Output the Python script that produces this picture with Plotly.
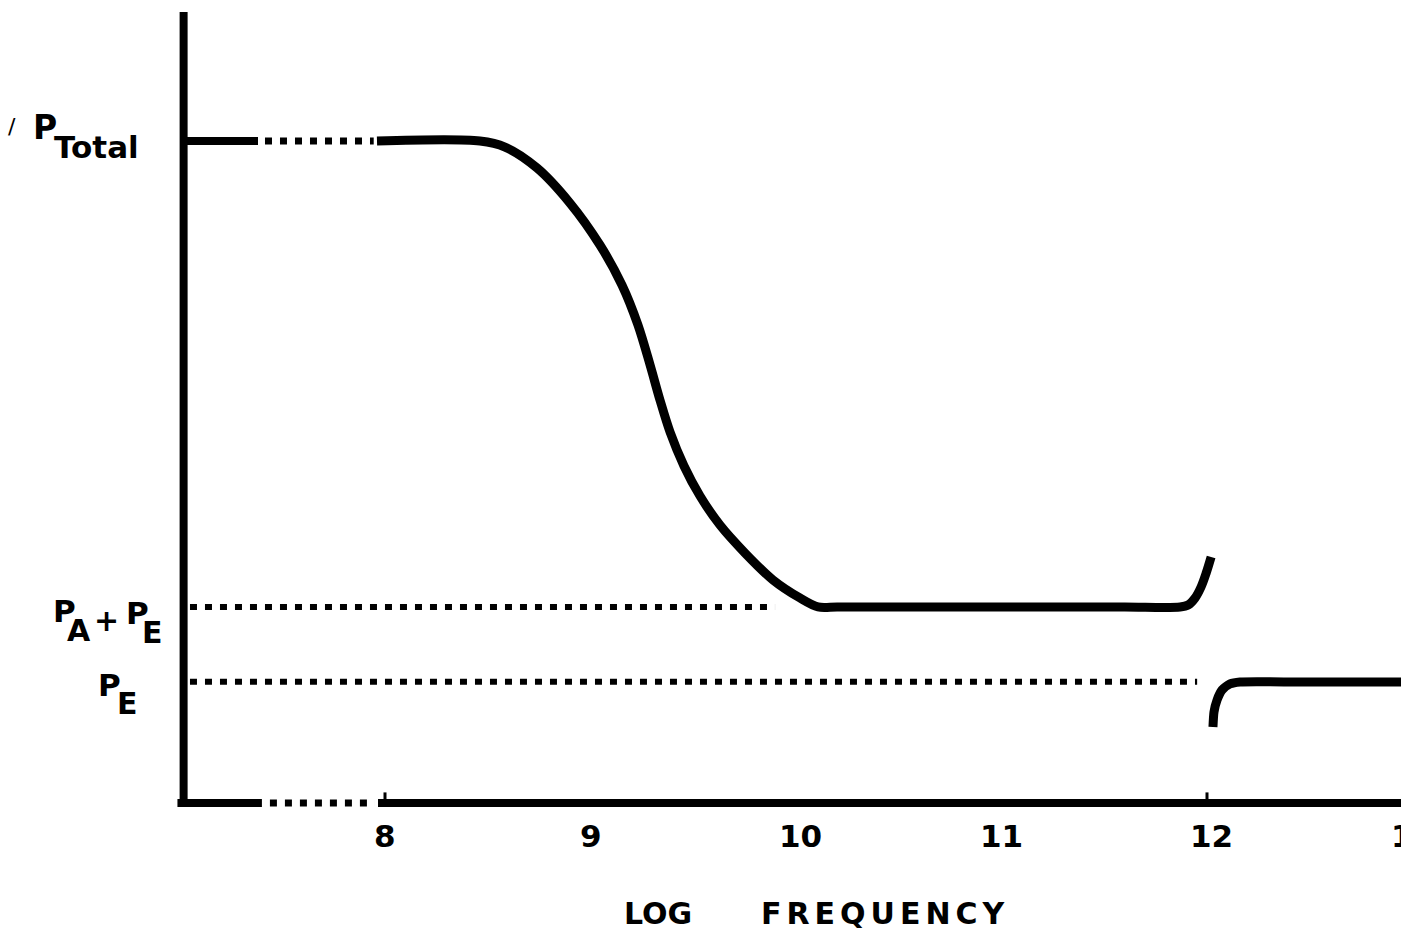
import plotly.graph_objects as go

# ---- data (log frequency, polarization in arbitrary units) ----
P_TOTAL = 10.0
P_AE = 2.96
P_E = 1.83

# main dispersion curve (solid)
curve_x = [7.961, 8.462, 8.584, 8.740, 8.900, 9.046, 9.153, 9.231, 9.290, 9.338,
           9.387, 9.455, 9.533, 9.630, 9.752, 9.888, 10.019, 10.107, 10.2, 10.4,
           10.8, 11.2, 11.6, 11.869, 11.908, 11.942, 11.971, 11.996, 12.020]
curve_y = [10.0, 10.0, 9.909, 9.592, 9.063, 8.429, 7.825, 7.221, 6.616, 6.088,
           5.604, 5.091, 4.637, 4.199, 3.776, 3.369, 3.097, 2.961, 2.961, 2.961,
           2.961, 2.961, 2.961, 2.961, 2.991, 3.097, 3.263, 3.474, 3.716]

# curve beyond the resonance near 12
tail_x = [12.029, 12.034, 12.049, 12.073, 12.112, 12.161, 12.45, 12.75, 13.0]
tail_y = [1.148, 1.375, 1.556, 1.707, 1.798, 1.828, 1.828, 1.828, 1.828]

# P_Total start (solid + dotted)
ptot_solid_x = [7.02, 7.382]
ptot_dot_x = [7.416, 7.945]

# reference dotted levels
pae_dot_x = [7.051, 9.898]
pe_dot_x = [7.051, 11.952]

# axes
yaxis_x = [7.02, 7.02]
yaxis_y = [-0.02, 11.95]
xaxis_solid1 = [6.99, 7.401]
xaxis_dot = [7.44, 7.951]
xaxis_solid2 = [7.966, 13.0]
tick_vals = [8, 12]
tick_labels = ["8", "9", "10", "11", "12", "13"]
tick_label_vals = [8, 9, 10, 11, 12, 13]

BLACK = "#000000"
DOT = "7px,8px"

fig = go.Figure()


def add_line(xs, ys, width, dash=None, shape="linear", smoothing=None):
    line = dict(color=BLACK, width=width, dash=dash, shape=shape)
    if smoothing is not None:
        line["smoothing"] = smoothing
    fig.add_trace(go.Scatter(x=xs, y=ys, mode="lines", line=line,
                             hoverinfo="skip", showlegend=False))


# axes
add_line(yaxis_x, yaxis_y, 8)
add_line(xaxis_solid1, [0, 0], 8)
add_line(xaxis_dot, [0, 0], 7, dash=DOT)
add_line(xaxis_solid2, [0, 0], 8)
for t in tick_vals:
    add_line([t, t], [0, 0.16], 3)

# P_Total lead-in
add_line(ptot_solid_x, [P_TOTAL, P_TOTAL], 8)
add_line(ptot_dot_x, [P_TOTAL, P_TOTAL], 7, dash=DOT)

# dotted reference lines
add_line(pae_dot_x, [P_AE, P_AE], 6, dash=DOT)
add_line(pe_dot_x, [P_E, P_E], 6, dash=DOT)

# curves
add_line(curve_x, curve_y, 9, shape="spline", smoothing=0.9)
add_line(tail_x, tail_y, 9, shape="spline", smoothing=0.6)

W, H = 1401, 936
X0, XS = 179.5, 205.5
Y0, YS = 803.0, 66.2


def px(x):
    return x / W


def py(y):
    return 1 - y / H


FONT = "DejaVu Sans"
ann = []


def text(t, x, y, size, bold=True, xanchor="center", yanchor="middle"):
    if bold:
        t = "<b>" + t + "</b>"
    ann.append(dict(text=t, x=px(x), y=py(y), xref="paper", yref="paper",
                    showarrow=False, xanchor=xanchor, yanchor=yanchor,
                    font=dict(family=FONT, size=size, color=BLACK)))


# y labels
text("/", 12, 127, 22, bold=False)
text("P", 45, 128, 33)
text("Total", 96, 147, 31)
text("P", 64, 611, 31)
text("A", 79, 630, 30)
text("+", 106, 620, 30)
text("P", 137, 613, 31)
text("E", 152, 632, 30)
text("P", 109, 685, 31)
text("E", 127, 703, 30)

# tick labels
for v, lab in zip(tick_label_vals, tick_labels):
    cx = X0 + (v - 7) * XS
    text(lab, cx + (4 if v in (10, 12) else 0), 836, 31)

# axis title
text("LOG", 658, 913, 30)
text('<span style="letter-spacing:5px">FREQUENCY</span>', 885, 913, 30)

fig.update_layout(
    width=W, height=H,
    margin=dict(l=0, r=0, t=0, b=0),
    paper_bgcolor="white", plot_bgcolor="white",
    xaxis=dict(range=[7 - X0 / XS, 7 + (W - X0) / XS], visible=False, fixedrange=True),
    yaxis=dict(range=[(Y0 - H) / YS, Y0 / YS], visible=False, fixedrange=True),
    annotations=ann,
    showlegend=False,
)

fig.write_html("out.html")
